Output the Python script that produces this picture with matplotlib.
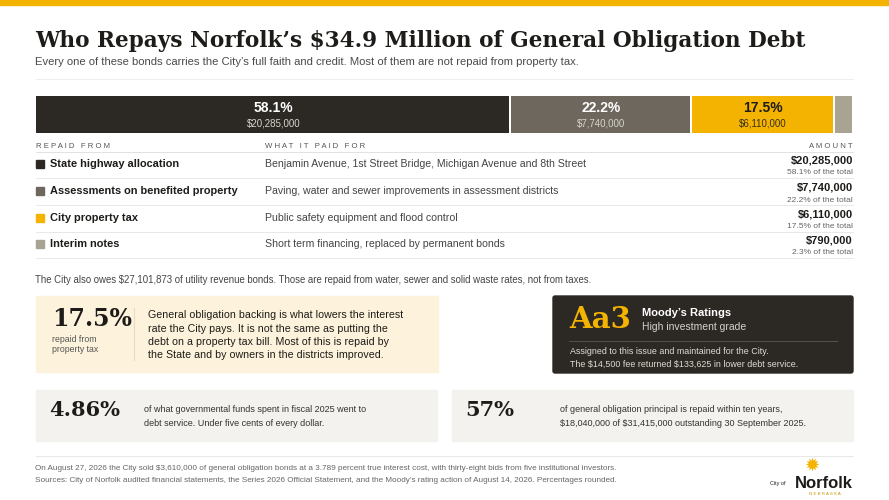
import matplotlib
matplotlib.use("Agg")
import matplotlib.pyplot as plt
from matplotlib.patches import Rectangle, FancyBboxPatch

plt.rcParams["text.parse_math"] = False

sources = ["State highway allocation", "Assessments on benefited property", "City property tax", "Interim notes"]
purposes = ["Benjamin Avenue, 1st Street Bridge, Michigan Avenue and 8th Street",
            "Paving, water and sewer improvements in assessment districts",
            "Public safety equipment and flood control",
            "Short term financing, replaced by permanent bonds"]
amounts = [20285000, 7740000, 6110000, 790000]
shares = [58.1, 22.2, 17.5, 2.3]
colors = ["#2c2924", "#6d675e", "#f5b301", "#a9a394"]

fig = plt.figure(figsize=(8.89, 5.0), dpi=100)
ax = fig.add_axes([0, 0, 1, 1])
ax.set_xlim(0, 889); ax.set_ylim(500, 0); ax.axis("off")
S = "Liberation Sans"
SER = "DejaVu Serif"
dark = "#1e1c19"

ax.add_patch(Rectangle((0, 0), 889, 5, color="#f5b301"))
ax.text(35, 41, "Who Repays Norfolk\u2019s $34.9 Million of General Obligation Debt",
        family=SER, weight="bold", fontsize=15.6, color=dark, va="center")
ax.text(35, 62, "Every one of these bonds carries the City\u2019s full faith and credit. Most of them are not repaid from property tax.",
        family=S, fontsize=8.1, color="#4a4a4a", va="center")
ax.plot([36, 853], [79, 79], color="#eeeeee", lw=0.8)

total = sum(amounts)
x0, width = 36, 817
left = x0
for i, (a, s, c) in enumerate(zip(amounts, shares, colors)):
    w = a / total * width
    ax.barh(114, w - 1.5, left=left, height=37, color=c, align="center")
    if i < 3:
        tc = "#1e1c19" if i == 2 else "white"
        sc = "#3a3020" if i == 2 else "#d8d4cc"
        ax.text(left + w / 2, 108, f"{s}%", ha="center", va="center", family=S, weight="bold", fontsize=10, color=tc)
        ax.text(left + w / 2, 123, f"${a:,.0f}", ha="center", va="center", family=S, fontsize=7, color=sc)
    left += w

hk = dict(family=S, fontsize=5.6, color="#555", va="center")
ax.text(36, 146, "R E P A I D   F R O M", **hk)
ax.text(265, 146, "W H A T   I T   P A I D   F O R", **hk)
ax.text(853, 146, "A M O U N T", ha="right", **hk)
ax.plot([36, 853], [152, 152], color="#dddddd", lw=0.6)

ys = [164, 191, 218, 244]
for i, y in enumerate(ys):
    ax.add_patch(Rectangle((36, y - 4), 8, 8, color=colors[i]))
    ax.text(50, y, sources[i], family=S, weight="bold", fontsize=7.9, color=dark, va="center")
    ax.text(265, y, purposes[i], family=S, fontsize=7.6, color="#444", va="center")
    ax.text(853, y - 3.5, f"${amounts[i]:,.0f}", family=S, weight="bold", fontsize=8, color=dark, va="center", ha="right")
    ax.text(853, y + 9, f"{shares[i]}% of the total", family=S, fontsize=6, color="#666", va="center", ha="right")
    ax.plot([36, 853], [y + 14, y + 14], color="#e4e4e4", lw=0.6)

ax.text(35, 280, "The City also owes $27,101,873 of utility revenue bonds. Those are repaid from water, sewer and solid waste rates, not from taxes.",
        family=S, fontsize=6.9, color="#444", va="center")

ax.add_patch(Rectangle((36, 296), 402, 76, color="#fdf3dc"))
ax.text(52, 319, "17.5%", family=SER, weight="bold", fontsize=17, color=dark, va="center")
ax.text(52, 339, "repaid from", family=S, fontsize=6.3, color="#555", va="center")
ax.text(52, 350, "property tax", family=S, fontsize=6.3, color="#555", va="center")
ax.plot([134, 134], [308, 360], color="#e8dcc0", lw=0.8)
for j, t in enumerate(["General obligation backing is what lowers the interest",
                       "rate the City pays. It is not the same as putting the",
                       "debt on a property tax bill. Most of this is repaid by",
                       "the State and by owners in the districts improved."]):
    ax.text(148, 315 + j * 13.5, t, family=S, fontsize=7.7, color=dark, va="center")

ax.add_patch(FancyBboxPatch((553, 296), 300, 77, boxstyle="round,pad=0,rounding_size=2", color="#2c2924"))
ax.text(569, 319, "Aa3", family=SER, weight="bold", fontsize=21, color="#f5b301", va="center")
ax.text(642, 313, "Moody\u2019s Ratings", family=S, weight="bold", fontsize=8, color="white", va="center")
ax.text(642, 327, "High investment grade", family=S, fontsize=7.5, color="#d6d2ca", va="center")
ax.plot([569, 837], [341, 341], color="#55514a", lw=0.7)
ax.text(570, 352, "Assigned to this issue and maintained for the City.", family=S, fontsize=6.4, color="#e0dcd4", va="center")
ax.text(570, 364, "The $14,500 fee returned $133,625 in lower debt service.", family=S, fontsize=6.4, color="#e0dcd4", va="center")

for bx, big, l1, l2, tx in [(36, "4.86%", "of what governmental funds spent in fiscal 2025 went to",
                             "debt service. Under five cents of every dollar.", 144),
                            (452, "57%", "of general obligation principal is repaid within ten years,",
                             "$18,040,000 of $31,415,000 outstanding 30 September 2025.", 560)]:
    ax.add_patch(Rectangle((bx, 390), 401, 51, color="#f4f2ee"))
    ax.text(bx + 13, 410, big, family=SER, weight="bold", fontsize=15, color=dark, va="center")
    ax.text(tx, 409, l1, family=S, fontsize=6.5, color="#333", va="center")
    ax.text(tx, 423, l2, family=S, fontsize=6.5, color="#333", va="center")

ax.plot([36, 853], [456, 456], color="#e8e8e8", lw=0.8)
ax.text(35, 468, "On August 27, 2026 the City sold $3,610,000 of general obligation bonds at a 3.789 percent true interest cost, with thirty-eight bids from five institutional investors.",
        family=S, fontsize=5.9, color="#666", va="center")
ax.text(35, 481, "Sources: City of Norfolk audited financial statements, the Series 2026 Official Statement, and the Moody\u2019s rating action of August 14, 2026. Percentages rounded.",
        family=S, fontsize=5.9, color="#666", va="center")

ax.text(812, 466, "\u2739", fontsize=13, color="#f5b301", ha="center", va="center", family="DejaVu Sans")
ax.text(853, 483, "Norfolk", family=S, weight="bold", fontsize=12, color=dark, ha="right", va="center")
ax.text(786, 484, "City of", family=S, fontsize=4, color=dark, ha="right", va="center")
ax.text(825, 494, "N E B R A S K A", family=S, fontsize=3.2, color="#c99a00", ha="center", va="center")

fig.savefig("out.png", dpi=100, facecolor="white")
